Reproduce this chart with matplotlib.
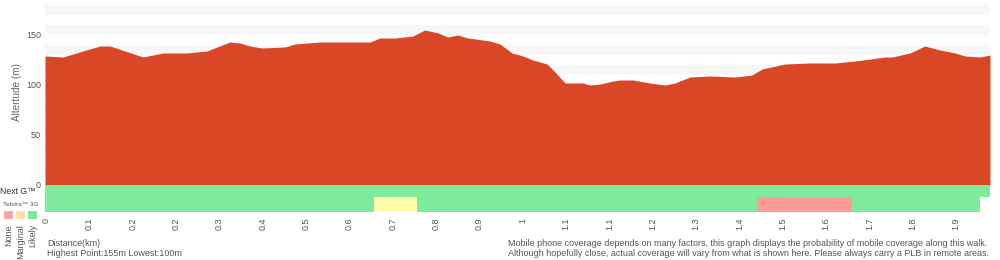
import matplotlib
matplotlib.use('Agg')
import numpy as np
import matplotlib.pyplot as plt
from matplotlib.patches import Rectangle

# elevation profile (km, m)
dist_km = [0.000, 0.038, 0.079, 0.115, 0.136, 0.167, 0.205, 0.246, 0.296, 0.338,
           0.386, 0.407, 0.428, 0.453, 0.501, 0.522, 0.574, 0.679, 0.699, 0.731,
           0.768, 0.793, 0.821, 0.841, 0.862, 0.883, 0.929, 0.950, 0.975, 0.998,
           1.019, 1.048, 1.061, 1.086, 1.123, 1.138, 1.159, 1.186, 1.201, 1.228,
           1.263, 1.295, 1.315, 1.347, 1.389, 1.441, 1.476, 1.497, 1.545, 1.597,
           1.650, 1.691, 1.723, 1.754, 1.769, 1.806, 1.837, 1.869, 1.900, 1.921,
           1.952, 1.973]
elev_m = [129, 128, 134, 139, 139, 134, 128, 132, 132, 134,
          143, 142, 139, 137, 138, 141, 143, 143, 147, 147,
          149, 155, 152, 148, 150, 147, 144, 141, 132, 129,
          125, 121, 115, 102, 102, 100, 101, 104, 105, 105,
          102, 100, 102, 108, 109, 108, 110, 116, 121, 122,
          122, 124, 126, 128, 128, 132, 139, 135, 132, 129,
          128, 130]

# coverage segments (start km, end km, status)
nextg_start = [0.000]
nextg_end = [1.973]
nextg_status = ['Likely']
tel3g_start = [0.000, 0.687, 0.777, 1.487, 1.685]
tel3g_end = [0.687, 0.777, 1.487, 1.685, 1.952]
tel3g_status = ['Likely', 'Marginal', 'Likely', 'None', 'Likely']

tick_labels = ['0', '0.1', '0.2', '0.2', '0.3', '0.4', '0.5', '0.6', '0.7', '0.8', '0.9',
               '1', '1.1', '1.1', '1.2', '1.3', '1.4', '1.5', '1.6', '1.7', '1.8', '1.9']
yticks = [0, 50, 100, 150]

colors = {'Likely': '#7deb9b', 'Marginal': '#fffea8', 'None': '#ff9a98'}
legend_colors = ['#ffa3a3', '#ffe2ab', '#7de89a']
legend_names = ['None', 'Marginal', 'Likely']
red = '#d94727'
grey = '#555555'

plt.rcParams['font.family'] = ['Liberation Sans', 'DejaVu Sans']

W, H = 1000, 260
fig = plt.figure(figsize=(W / 100, H / 100), dpi=100)
ax = fig.add_axes([45 / W, 48 / H, 945 / W, 207 / H])

# background stripes
for v in range(10, 180, 20):
    ax.axhspan(v, v + 10, color='#f7f7f7', lw=0, zorder=0)

ax.fill_between(dist_km, 0, elev_m, color=red, lw=0, zorder=2)

# coverage strip
for s, e, st in zip(nextg_start, nextg_end, nextg_status):
    ax.add_patch(Rectangle((s, -27), e - s, 27, color=colors[st], lw=0, zorder=2))
ax.add_patch(Rectangle((tel3g_end[-1], -27), nextg_end[0] - tel3g_end[-1], 15,
                       color='white', lw=0, zorder=3))
for s, e, st in zip(tel3g_start, tel3g_end, tel3g_status):
    ax.add_patch(Rectangle((s, -27), e - s, 15, color=colors[st], lw=0, zorder=3))

ax.set_xlim(0, 1.973)
ax.set_ylim(-27, 180)
step = 0.0905
ax.set_xticks(0.002 + np.arange(len(tick_labels)) * step)
ax.set_xticklabels(tick_labels, rotation=90, va='top')
ax.set_yticks(yticks)
ax.tick_params(axis='both', length=0, labelsize=6.5, labelcolor=grey)
ax.tick_params(axis='x', pad=4)
ax.tick_params(axis='y', pad=3)
for sp in ax.spines.values():
    sp.set_visible(False)

fig.text(17 / W, 1 - 92 / H, 'Altertude (m)', rotation=90, ha='center', va='center',
         fontsize=7.2, color='#666666')

# legend on the left
fig.text(0 / W, 1 - 191 / H, 'Next G\u2122', ha='left', va='center', fontsize=6.2, color='#333333')
fig.text(3 / W, 1 - 204 / H, 'Telstra\u2122 3G', ha='left', va='center', fontsize=4.6, color=grey)
for i, (c, name) in enumerate(zip(legend_colors, legend_names)):
    x0 = 4 + i * 12.2
    fig.patches.append(Rectangle((x0 / W, 1 - 218.5 / H), 8.5 / W, 7.5 / H, color=c, lw=0,
                                 transform=fig.transFigure, figure=fig))
    fig.text((x0 + 4.5) / W, 1 - 224 / H, name, rotation=90, ha='center', va='top',
             fontsize=6.5, color=grey)

fig.text(47 / W, 1 - 243 / H, 'Distance(km)', ha='left', va='center', fontsize=6.5, color=grey)
fig.text(47 / W, 1 - 253.5 / H, 'Highest Point:155m Lowest:100m', ha='left', va='center',
         fontsize=6.5, color=grey)
fig.text(508 / W, 1 - 243 / H,
         'Mobile phone coverage depends on many factors, this graph displays the probability of mobile coverage along this walk.',
         ha='left', va='center', fontsize=6.5, color=grey)
fig.text(508 / W, 1 - 253.5 / H,
         'Although hopefully close, actual coverage will vary from what is shown here. Please always carry a PLB in remote areas.',
         ha='left', va='center', fontsize=6.5, color=grey)

fig.savefig('out.png', dpi=100)
